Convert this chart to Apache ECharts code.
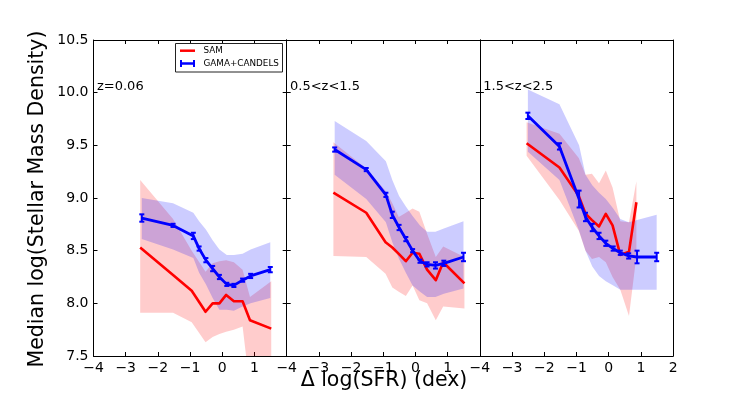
<!DOCTYPE html>
<html>
<head>
<meta charset="utf-8">
<script src="https://cdn.jsdelivr.net/npm/echarts@6/dist/echarts.min.js"></script>
<style>html,body{margin:0;padding:0;background:#fff}#c{width:747px;height:396px}</style>
</head>
<body>
<div id="c"></div>
<script>
// ---------- data ----------
const panelLabels = ['z=0.06', '0.5<z<1.5', '1.5<z<2.5'];
const xTickMin = -4, xTickMax = 2, yTickMin = 7.5, yTickMax = 10.5;

// Panel 1 : z=0.06
const p1BlueX  = [-2.5, -1.53, -0.9, -0.72, -0.51, -0.3, -0.09, 0.14, 0.36, 0.63, 0.88, 1.49];
const p1BlueY  = [8.81, 8.74, 8.64, 8.52, 8.41, 8.33, 8.25, 8.18, 8.17, 8.22, 8.26, 8.32];
const p1BlueE  = [0.035, 0.015, 0.03, 0.02, 0.02, 0.025, 0.02, 0.015, 0.015, 0.015, 0.02, 0.025];
const p1BlueHi = [9.0, 8.95, 8.86, 8.78, 8.7, 8.6, 8.51, 8.46, 8.46, 8.47, 8.51, 8.58];
const p1BlueLo = [8.61, 8.51, 8.43, 8.29, 8.18, 8.05, 7.94, 7.94, 7.93, 7.97, 8.0, 8.05];
const p1RedX   = [-2.55, -1.53, -0.95, -0.52, -0.3, -0.09, 0.12, 0.36, 0.63, 0.86, 1.52];
const p1RedY   = [8.53, 8.27, 8.12, 7.92, 8.0, 8.0, 8.08, 8.02, 8.02, 7.84, 7.76];
const p1RedHi  = [9.17, 8.8, 8.5, 8.3, 8.38, 8.4, 8.41, 8.39, 8.32, 8.06, 8.21];
const p1RedLo  = [7.91, 7.91, 7.82, 7.63, 7.68, 7.71, 7.73, 7.75, 7.78, 7.19, 7.2];

// Panel 2 : 0.5<z<1.5
const p2BlueX  = [-2.51, -1.53, -0.92, -0.72, -0.51, -0.3, -0.09, 0.14, 0.36, 0.62, 0.88, 1.49];
const p2BlueY  = [9.46, 9.27, 9.03, 8.84, 8.72, 8.61, 8.5, 8.4, 8.37, 8.36, 8.38, 8.44];
const p2BlueE  = [0.02, 0.015, 0.02, 0.03, 0.025, 0.02, 0.015, 0.015, 0.02, 0.03, 0.025, 0.04];
const p2BlueHi = [9.73, 9.54, 9.35, 9.17, 9.02, 8.92, 8.83, 8.74, 8.68, 8.68, 8.71, 8.78];
const p2BlueLo = [9.22, 8.99, 8.77, 8.58, 8.42, 8.29, 8.17, 8.11, 8.06, 8.06, 8.09, 8.14];
const p2RedX   = [-2.55, -1.53, -0.93, -0.72, -0.52, -0.3, -0.09, 0.12, 0.36, 0.63, 0.86, 1.52];
const p2RedY   = [9.05, 8.86, 8.58, 8.53, 8.47, 8.4, 8.48, 8.47, 8.32, 8.22, 8.39, 8.19];
const p2RedHi  = [9.53, 9.28, 9.07, 8.95, 8.82, 8.86, 8.9, 8.87, 8.66, 8.44, 8.54, 8.44];
const p2RedLo  = [8.45, 8.44, 8.28, 8.15, 8.11, 8.07, 8.17, 8.03, 8.0, 7.84, 7.97, 7.95];

// Panel 3 : 1.5<z<2.5
const p3BlueX  = [-2.51, -1.53, -0.92, -0.72, -0.51, -0.3, -0.09, 0.14, 0.36, 0.62, 0.88, 1.49];
const p3BlueY  = [9.78, 9.49, 8.99, 8.82, 8.72, 8.64, 8.57, 8.52, 8.48, 8.45, 8.44, 8.44];
const p3BlueE  = [0.03, 0.03, 0.08, 0.04, 0.035, 0.03, 0.025, 0.02, 0.02, 0.025, 0.06, 0.04];
const p3BlueHi = [10.03, 9.89, 9.5, 9.22, 9.12, 9.05, 8.99, 8.9, 8.8, 8.77, 8.79, 8.84];
const p3BlueLo = [9.44, 9.17, 8.69, 8.5, 8.35, 8.26, 8.21, 8.17, 8.13, 8.13, 8.13, 8.13];
const p3RedX   = [-2.55, -1.53, -0.93, -0.72, -0.52, -0.3, -0.09, 0.12, 0.36, 0.63, 0.86];
const p3RedY   = [9.52, 9.29, 9.02, 8.85, 8.79, 8.73, 8.85, 8.74, 8.46, 8.49, 8.96];
const p3RedHi  = [9.72, 9.61, 9.38, 9.22, 9.23, 9.14, 9.26, 9.1, 8.78, 8.77, 9.16];
const p3RedLo  = [9.4, 8.98, 8.69, 8.5, 8.42, 8.44, 8.39, 8.25, 8.13, 7.88, 8.45];

const panels = [
  {bx:p1BlueX, by:p1BlueY, be:p1BlueE, bhi:p1BlueHi, blo:p1BlueLo, rx:p1RedX, ry:p1RedY, rhi:p1RedHi, rlo:p1RedLo},
  {bx:p2BlueX, by:p2BlueY, be:p2BlueE, bhi:p2BlueHi, blo:p2BlueLo, rx:p2RedX, ry:p2RedY, rhi:p2RedHi, rlo:p2RedLo},
  {bx:p3BlueX, by:p3BlueY, be:p3BlueE, bhi:p3BlueHi, blo:p3BlueLo, rx:p3RedX, ry:p3RedY, rhi:p3RedHi, rlo:p3RedLo}
];

// ---------- chart ----------
const FONT = 'DejaVu Sans';
const RED = '#ff0000', BLUE = '#0000ff';
const gridLefts = [93.5, 286.7, 479.9];
const gridW = 193.2;

const grids = gridLefts.map(l => ({left: l, top: 40, width: gridW, height: 316}));
const xAxes = [], yAxes = [];
gridLefts.forEach((l, gi) => {
  const common = {
    type: 'value', gridIndex: gi, min: xTickMin, max: xTickMax, interval: 1,
    axisLine: {show: true, onZero: false, lineStyle: {color: '#000', width: 1}},
    axisTick: {show: true, inside: true, length: 4, lineStyle: {color: '#000'}},
    splitLine: {show: false}
  };
  xAxes.push(Object.assign({}, common, {
    position: 'bottom',
    axisLabel: {show: true, color: '#000', fontFamily: FONT, fontSize: 14, margin: 5,
      showMaxLabel: true, showMinLabel: true,
      formatter: v => (gi < 2 && v === xTickMax) ? '' : (v < 0 ? '\u2212' + Math.abs(v) : String(v))}
  }));
  xAxes.push(Object.assign({}, common, {position: 'top', axisLabel: {show: false}}));
  const ycommon = {
    type: 'value', gridIndex: gi, min: yTickMin, max: yTickMax, interval: 0.5,
    axisLine: {show: true, onZero: false, lineStyle: {color: '#000', width: 1}},
    axisTick: {show: true, inside: true, length: 4, lineStyle: {color: '#000'}},
    splitLine: {show: false}
  };
  yAxes.push(Object.assign({}, ycommon, {
    position: 'left',
    axisLabel: {show: gi === 0, color: '#000', fontFamily: FONT, fontSize: 14, margin: 5,
      formatter: v => v.toFixed(1)}
  }));
  yAxes.push(Object.assign({}, ycommon, {position: 'right', axisLabel: {show: false}}));
});

function bandSeries(gi, xs, lo, hi, color) {
  return {
    type: 'custom', xAxisIndex: gi * 2, yAxisIndex: gi * 2, clip: true, silent: true, z: 1,
    data: xs.map((x, i) => [x, lo[i], hi[i]]),
    encode: {x: 0, y: [1, 2]},
    renderItem(params, api) {
      if (params.dataIndex !== 0) return null;
      const pts = [];
      for (let i = 0; i < xs.length; i++) pts.push(api.coord([xs[i], hi[i]]));
      for (let i = xs.length - 1; i >= 0; i--) pts.push(api.coord([xs[i], lo[i]]));
      return {type: 'polygon', shape: {points: pts}, style: {fill: color}};
    }
  };
}
function lineSeries(gi, name, xs, ys, color, w, z) {
  return {
    name, type: 'line', xAxisIndex: gi * 2, yAxisIndex: gi * 2, z,
    data: xs.map((x, i) => [x, ys[i]]),
    showSymbol: false, symbol: 'none', clip: true, silent: true,
    lineStyle: {color, width: w, join: 'round'}, itemStyle: {color}
  };
}
function errSeries(gi, xs, ys, es) {
  return {
    type: 'custom', xAxisIndex: gi * 2, yAxisIndex: gi * 2, z: 6, silent: true, clip: true,
    data: xs.map((x, i) => [x, ys[i], es[i]]),
    encode: {x: 0, y: 1},
    renderItem(params, api) {
      const x = api.value(0), y = api.value(1), e = api.value(2);
      const t = api.coord([x, y + e]), b = api.coord([x, y - e]);
      const st = {stroke: BLUE, lineWidth: 2};
      return {type: 'group', children: [
        {type: 'line', shape: {x1: t[0], y1: t[1], x2: b[0], y2: b[1]}, style: st},
        {type: 'line', shape: {x1: t[0] - 2.5, y1: t[1], x2: t[0] + 2.5, y2: t[1]}, style: st},
        {type: 'line', shape: {x1: b[0] - 2.5, y1: b[1], x2: b[0] + 2.5, y2: b[1]}, style: st}
      ]};
    }
  };
}

const series = [];
panels.forEach((p, gi) => {
  series.push(bandSeries(gi, p.rx, p.rlo, p.rhi, 'rgba(255,0,0,0.2)'));
  series.push(bandSeries(gi, p.bx, p.blo, p.bhi, 'rgba(0,0,255,0.2)'));
  series.push(lineSeries(gi, 'SAM', p.rx, p.ry, RED, 2.6, 4));
  series.push(lineSeries(gi, 'GAMA+CANDELS', p.bx, p.by, BLUE, 2.8, 5));
  series.push(errSeries(gi, p.bx, p.by, p.be));
});

const graphic = [
  {type: 'text', left: 'center', x: 0, style: {}},
];
graphic.length = 0;
graphic.push(
  {type: 'text', x: 384, y: 381, style: {text: '\u0394 log(SFR) (dex)', fontFamily: FONT, fontSize: 20.5, fill: '#000', align: 'center', verticalAlign: 'middle'}},
  {type: 'text', x: 38, y: 199, rotation: Math.PI / 2, style: {text: 'Median log(Stellar Mass Density)', fontFamily: FONT, fontSize: 20.5, fill: '#000', align: 'center', verticalAlign: 'middle'}},
  {type: 'text', x: 97, y: 87, style: {text: panelLabels[0], fontFamily: FONT, fontSize: 13, fill: '#000', align: 'left', verticalAlign: 'middle'}},
  {type: 'text', x: 290, y: 87, style: {text: panelLabels[1], fontFamily: FONT, fontSize: 13, fill: '#000', align: 'left', verticalAlign: 'middle'}},
  {type: 'text', x: 483.3, y: 87, style: {text: panelLabels[2], fontFamily: FONT, fontSize: 13, fill: '#000', align: 'left', verticalAlign: 'middle'}},
  // legend
  {type: 'rect', shape: {x: 175.5, y: 43.5, width: 107, height: 28.5}, style: {fill: '#fff', stroke: '#222', lineWidth: 1}, z: 20},
  {type: 'line', shape: {x1: 180, y1: 50.7, x2: 195, y2: 50.7}, style: {stroke: RED, lineWidth: 2.5}, z: 21},
  {type: 'line', shape: {x1: 180, y1: 63.5, x2: 195, y2: 63.5}, style: {stroke: BLUE, lineWidth: 2.5}, z: 21},
  {type: 'line', shape: {x1: 181, y1: 60, x2: 181, y2: 67}, style: {stroke: BLUE, lineWidth: 2}, z: 21},
  {type: 'line', shape: {x1: 194, y1: 60, x2: 194, y2: 67}, style: {stroke: BLUE, lineWidth: 2}, z: 21},
  {type: 'text', x: 203.5, y: 50.7, z: 21, style: {text: 'SAM', fontFamily: FONT, fontSize: 8.8, fill: '#000', align: 'left', verticalAlign: 'middle'}},
  {type: 'text', x: 203.5, y: 63.4, z: 21, style: {text: 'GAMA+CANDELS', fontFamily: FONT, fontSize: 8.8, fill: '#000', align: 'left', verticalAlign: 'middle'}}
);

const chart = echarts.init(document.getElementById('c'), null, {renderer: 'canvas'});
chart.setOption({
  animation: false,
  backgroundColor: '#fff',
  textStyle: {fontFamily: FONT},
  grid: grids,
  xAxis: xAxes,
  yAxis: yAxes,
  series,
  graphic
});
</script>
</body>
</html>
